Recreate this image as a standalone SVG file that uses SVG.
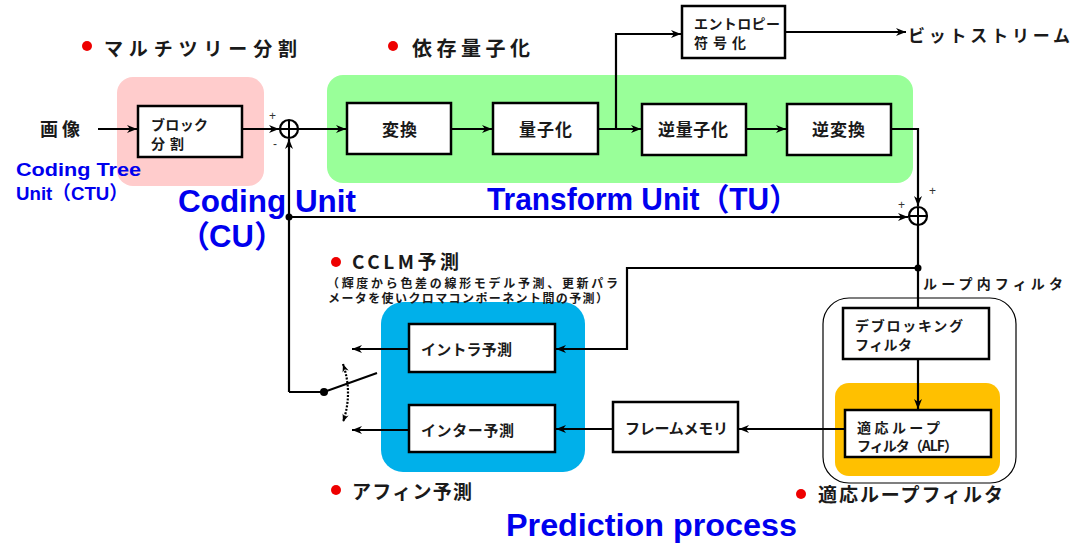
<svg xmlns="http://www.w3.org/2000/svg" width="1081" height="543" viewBox="0 0 1081 543">
<defs>
<marker id="ah" viewBox="0 0 10 10" refX="10" refY="5" markerWidth="10" markerHeight="10" markerUnits="userSpaceOnUse" orient="auto"><path d="M0,1 L10,5 L0,9 L3,5 Z" fill="#000"/></marker>
<marker id="ahs" viewBox="0 0 10 10" refX="10" refY="5" markerWidth="8" markerHeight="8" markerUnits="userSpaceOnUse" orient="auto-start-reverse"><path d="M0,1 L10,5 L0,9 L3,5 Z" fill="#000"/></marker>
</defs>
<style>
.box{fill:#fff;stroke:#000;stroke-width:2.5}
.t{font-family:"Noto Sans CJK JP","Liberation Sans",sans-serif;font-weight:bold;fill:#1a1a1a}
.bl{font-family:"Liberation Sans","Noto Sans CJK JP",sans-serif;font-weight:bold;fill:#0000ee}
.ln{fill:none;stroke:#000;stroke-width:2.2}
.dot{fill:#e00}
.pm{font-family:"Liberation Sans",sans-serif;font-size:12px;fill:#333}
</style>
<rect width="1081" height="543" fill="#fff"/>

<!-- backgrounds -->
<rect x="117" y="77" width="147" height="109" rx="16" fill="#ffcccc"/>
<rect x="327" y="75" width="586" height="108" rx="16" fill="#99ff99"/>
<rect x="381" y="302" width="204" height="170" rx="22" fill="#00b0ea"/>
<rect x="823" y="298" width="193" height="185" rx="26" fill="none" stroke="#000" stroke-width="1.2"/>
<rect x="835" y="383" width="165" height="93" rx="14" fill="#ffc000"/>

<!-- labels -->
<g id="labels">
<circle class="dot" cx="87" cy="46" r="5"/><text class="t" x="104" y="56" font-size="19" textLength="193" lengthAdjust="spacing">マルチツリー分割</text>
<circle class="dot" cx="393" cy="46" r="5"/><text class="t" x="412" y="56" font-size="20" textLength="118" lengthAdjust="spacing">依存量子化</text>
<text class="t" x="40" y="136" font-size="18" textLength="40" lengthAdjust="spacing">画像</text>
<text class="bl" x="16" y="176" font-size="19" textLength="125" lengthAdjust="spacingAndGlyphs">Coding Tree</text>
<text class="bl" x="16" y="200" font-size="19" textLength="112" lengthAdjust="spacingAndGlyphs">Unit（CTU）</text>
<text class="bl" x="178" y="212" font-size="31" textLength="178" lengthAdjust="spacingAndGlyphs">Coding Unit</text>
<text class="bl" y="247" font-size="31"><tspan x="179">（</tspan><tspan x="209">CU</tspan><tspan x="254">）</tspan></text>
<text class="bl" x="487" y="210" font-size="31" textLength="312" lengthAdjust="spacingAndGlyphs">Transform Unit（TU）</text>
<text class="bl" x="506" y="536" font-size="31" textLength="291" lengthAdjust="spacingAndGlyphs">Prediction process</text>
<text class="t" x="908" y="42" font-size="17" textLength="162" lengthAdjust="spacing">ビットストリーム</text>
<circle class="dot" cx="336" cy="262" r="5"/><text class="t" x="352" y="269" font-size="19" textLength="107" lengthAdjust="spacing">CCLM予測</text>
<text class="t" x="327" y="288" font-size="12" textLength="291" lengthAdjust="spacing">（輝度から色差の線形モデル予測、更新パラ</text>
<text class="t" x="328" y="303" font-size="12" textLength="280" lengthAdjust="spacing">メータを使いクロマコンポーネント間の予測）</text>
<circle class="dot" cx="336" cy="490" r="5"/><text class="t" x="352" y="499" font-size="19" textLength="120" lengthAdjust="spacing">アフィン予測</text>
<circle class="dot" cx="801" cy="494" r="5"/><text class="t" x="818" y="502" font-size="19" textLength="185" lengthAdjust="spacing">適応ループフィルタ</text>
<text class="t" x="923" y="289" font-size="14" textLength="140" lengthAdjust="spacing">ループ内フィルタ</text>
<text class="pm" x="269" y="120">+</text>
<text class="pm" x="273" y="148">-</text>
<text class="pm" x="898" y="209">+</text>
<text class="pm" x="929" y="195">+</text>
</g>

<!-- nodes -->
<g id="n-block"><rect class="box" x="138" y="106" width="104" height="51"/><text class="t" x="151" y="130" font-size="14" textLength="57" lengthAdjust="spacing">ブロック</text><text class="t" x="151" y="149" font-size="14" textLength="33" lengthAdjust="spacing">分割</text></g>
<g id="n-henkan"><rect class="box" x="347" y="103" width="104" height="51"/><text class="t" x="382" y="136" font-size="17" textLength="35" lengthAdjust="spacing">変換</text></g>
<g id="n-ryoshi"><rect class="box" x="493" y="103" width="105" height="51"/><text class="t" x="519" y="136" font-size="17" textLength="53" lengthAdjust="spacing">量子化</text></g>
<g id="n-gyakuryoshi"><rect class="box" x="642" y="104" width="104" height="51"/><text class="t" x="658" y="136" font-size="17" textLength="70" lengthAdjust="spacing">逆量子化</text></g>
<g id="n-gyakuhenkan"><rect class="box" x="787" y="104" width="104" height="51"/><text class="t" x="812" y="136" font-size="17" textLength="53" lengthAdjust="spacing">逆変換</text></g>
<g id="n-entropy"><rect class="box" x="682" y="6" width="103" height="52"/><text class="t" x="694" y="29" font-size="14" textLength="86" lengthAdjust="spacing">エントロピー</text><text class="t" x="694" y="48" font-size="14" textLength="52" lengthAdjust="spacing">符号化</text></g>
<g id="n-intra"><rect class="box" x="409" y="324" width="146" height="48"/><text class="t" x="421" y="355" font-size="15" textLength="91" lengthAdjust="spacing">イントラ予測</text></g>
<g id="n-inter"><rect class="box" x="409" y="405" width="146" height="47"/><text class="t" x="421" y="436" font-size="15" textLength="93" lengthAdjust="spacing">インター予測</text></g>
<g id="n-frame"><rect class="box" x="613" y="402" width="125" height="50"/><text class="t" x="625" y="434" font-size="15" textLength="103" lengthAdjust="spacing">フレームメモリ</text></g>
<g id="n-deblock"><rect class="box" x="843" y="308" width="146" height="51"/><text class="t" x="855" y="331" font-size="14" textLength="108" lengthAdjust="spacing">デブロッキング</text><text class="t" x="855" y="350" font-size="14" textLength="57" lengthAdjust="spacing">フィルタ</text></g>
<g id="n-alf"><rect class="box" x="845" y="410" width="146" height="47"/><text class="t" x="857" y="433" font-size="14" textLength="83" lengthAdjust="spacing">適応ループ</text><text class="t" x="857" y="451" font-size="14" textLength="101" lengthAdjust="spacing">フィルタ（ALF）</text></g>
<g id="n-sum1"><circle cx="289" cy="129" r="9" fill="#fff" stroke="#000" stroke-width="2.2"/><path d="M280,129 H298 M289,120 V138" stroke="#000" stroke-width="2"/></g>
<g id="n-sum2"><circle cx="918" cy="216" r="9" fill="#fff" stroke="#000" stroke-width="2.2"/><path d="M909,216 H927 M918,207 V225" stroke="#000" stroke-width="2"/></g>

<!-- connectors -->
<g id="connectors">
<path class="ln" d="M98,129 H137" marker-end="url(#ah)"/>
<path class="ln" d="M242,129 H279" marker-end="url(#ah)"/>
<path class="ln" d="M298,129 H346" marker-end="url(#ah)"/>
<path class="ln" d="M451,129 H492" marker-end="url(#ah)"/>
<path class="ln" d="M598,129 H641" marker-end="url(#ah)"/>
<path class="ln" d="M746,129 H786" marker-end="url(#ah)"/>
<path class="ln" d="M616,129 V34 H681" marker-end="url(#ah)"/>
<path class="ln" d="M785,32 H906" marker-end="url(#ah)"/>
<path class="ln" d="M891,129 H918 V206" marker-end="url(#ah)"/>
<path class="ln" d="M289,217 H908" marker-end="url(#ah)"/>
<path class="ln" d="M289,392 V139" marker-end="url(#ah)"/>
<path class="ln" d="M918,225 V308"/>
<path class="ln" d="M918,268 H627 V349 H556" marker-end="url(#ah)"/>
<path class="ln" d="M918,359 V409" marker-end="url(#ah)"/>
<path class="ln" d="M845,429 H739" marker-end="url(#ah)"/>
<path class="ln" d="M613,429 H556" marker-end="url(#ah)"/>
<path class="ln" d="M409,349 H352" marker-end="url(#ah)"/>
<path class="ln" d="M409,430 H352" marker-end="url(#ah)"/>
<path class="ln" d="M289,392 H324 L377,373"/>
<circle cx="289" cy="217" r="3.5" fill="#000"/>
<circle cx="918" cy="268" r="3.5" fill="#000"/>
<circle cx="324" cy="392" r="4" fill="#000"/>
<path d="M343,364 Q353,393 343,422" fill="none" stroke="#000" stroke-width="2.2" stroke-dasharray="2,1.5" marker-start="url(#ahs)" marker-end="url(#ahs)"/>
</g>
</svg>
